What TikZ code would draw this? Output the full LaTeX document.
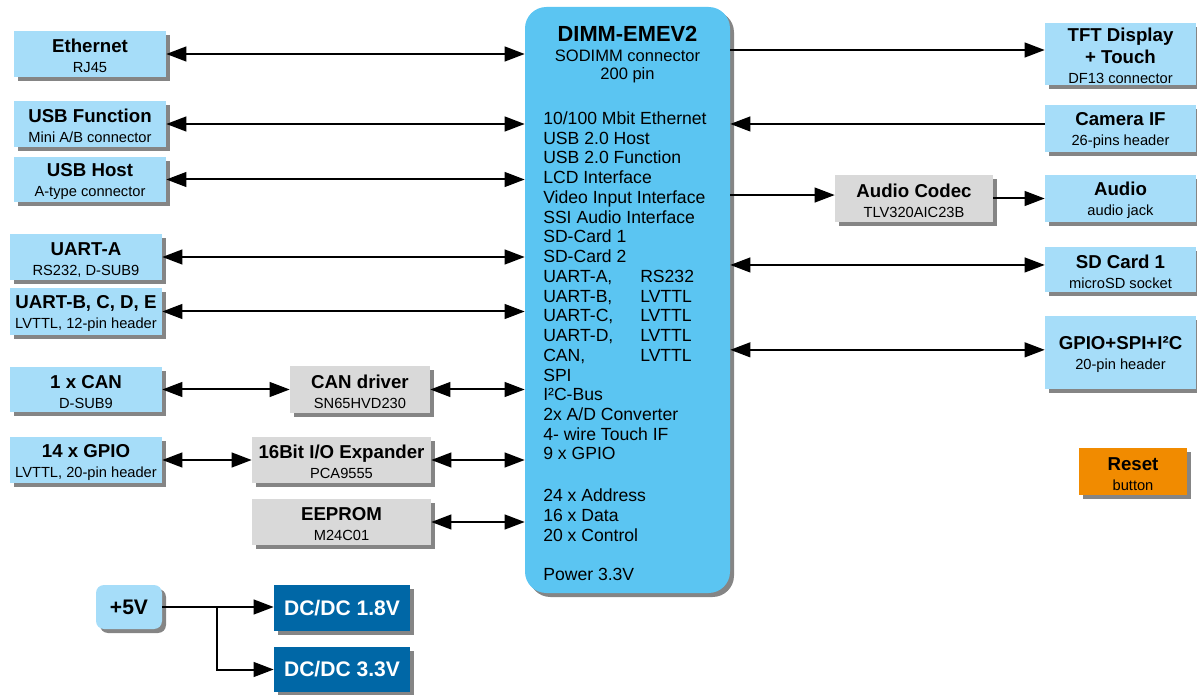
\documentclass[tikz,border=0pt]{standalone}
\usepackage{fontspec}
\setmainfont{Liberation Sans}
\usetikzlibrary{arrows.meta,shadows}
\definecolor{lblue}{HTML}{A6DDF9}
\definecolor{dimmblue}{HTML}{5BC5F2}
\definecolor{lgray}{HTML}{D9D9D9}
\definecolor{dblue}{HTML}{0067A6}
\definecolor{orng}{HTML}{F18B00}
\definecolor{shgray}{HTML}{858585}
\newcommand\ttl[1]{{\fontsize{14}{15}\selectfont\bfseries #1}}
\newcommand\tst{\rule{0pt}{13.5pt}}
\newcommand\bxat[7]{\node[#2, minimum width={(#5-#3)*0.75pt}, minimum height={(#6-#4)*0.75pt}] (#1) at ({(#3+#5)/2},{(#4+#6)/2}) {#7};}
\tikzset{
  box/.style={rectangle, inner sep=0pt, align=center,
    font=\fontsize{11}{15}\selectfont,
    drop shadow={shadow xshift=3pt, shadow yshift=-3pt, fill=shgray, opacity=1}},
  lbox/.style={box, fill=lblue},
  gbox/.style={box, fill=lgray},
  dbox/.style={box, fill=dblue, text=white, font=\fontsize{15.8}{18}\selectfont\bfseries},
  obox/.style={box, fill=orng},
  pbox/.style={box, fill=lblue, rounded corners=6pt, font=\fontsize{15.8}{18}\selectfont\bfseries},
  tip/.tip={Triangle[length=15pt,width=11pt]},
  conn/.style={line width=1.5pt, -tip},
  bconn/.style={line width=1.5pt, tip-tip},
}
\begin{document}
\begin{tikzpicture}[x=0.75pt,y=-0.75pt]
\useasboundingbox (0,0) rectangle (1197,695);
% main module
\node[rectangle, fill=dimmblue, rounded corners=16pt, minimum width={205*0.75pt}, minimum height={586*0.75pt},
  drop shadow={shadow xshift=3pt, shadow yshift=-3pt, fill=shgray, opacity=1}] (dimm) at (627.5,300) {};
\node[anchor=north, inner sep=0pt, align=center, font=\fontsize{12.4}{14.3}\selectfont] (dimmtitle) at (627.5,26)
  {{\fontsize{16.4}{18}\selectfont\bfseries DIMM-EMEV2}\\[0.6pt]SODIMM connector\\[-0.6pt]200 pin};
\node[anchor=north west, inner sep=0pt, align=left, font=\fontsize{13.2}{14.8}\selectfont] (dimmlist) at (543,111.5)
  {10/100 Mbit Ethernet\\USB 2.0 Host\\USB 2.0 Function\\LCD Interface\\Video Input Interface\\SSI Audio Interface\\
   SD-Card 1\\SD-Card 2\\\makebox[72.75pt][l]{UART-A,}RS232\\\makebox[72.75pt][l]{UART-B,}LVTTL\\
   \makebox[72.75pt][l]{UART-C,}LVTTL\\\makebox[72.75pt][l]{UART-D,}LVTTL\\\makebox[72.75pt][l]{CAN,}LVTTL\\
   SPI\\I²C-Bus\\2x A/D Converter\\4- wire Touch IF\\9 x GPIO\\[16.5pt]
   24 x Address\\16 x Data\\20 x Control\\[14.5pt]Power 3.3V};
% left boxes
\bxat{eth}{lbox}{14}{31}{166}{77}{\tst\ttl{Ethernet}\\RJ45}
\bxat{usbf}{lbox}{14}{101}{166}{147}{\tst\ttl{USB Function}\\Mini A/B connector}
\bxat{usbh}{lbox}{14}{157}{166}{202}{\tst\ttl{USB Host}\\A-type connector}
\bxat{uarta}{lbox}{10}{234}{162}{280}{\tst\ttl{UART-A}\\RS232, D-SUB9}
\bxat{uartb}{lbox}{10}{288}{162}{335}{\tst\ttl{UART-B, C, D, E}\\LVTTL, 12-pin header}
\bxat{can}{lbox}{10}{367}{162}{412}{\tst\ttl{1 x CAN}\\D-SUB9}
\bxat{gpio}{lbox}{10}{437}{162}{483}{\tst\ttl{14 x GPIO}\\LVTTL, 20-pin header}
\bxat{candrv}{gbox}{290}{366}{430}{413}{\tst\ttl{CAN driver}\\SN65HVD230}
\bxat{exp}{gbox}{252}{437}{431}{483}{\tst\ttl{16Bit I/O Expander}\\PCA9555}
\bxat{eeprom}{gbox}{252}{499}{431}{545}{\tst\ttl{EEPROM}\\M24C01}
\bxat{p5v}{pbox}{96}{585}{162}{629}{+5V}
\bxat{dc18}{dbox}{274}{585}{410}{631}{DC/DC 1.8V}
\bxat{dc33}{dbox}{274}{647}{410}{692}{DC/DC 3.3V}
% right boxes
\bxat{tft}{lbox}{1045}{23}{1196}{85}{\tst\ttl{TFT Display}\\[1.5pt]\ttl{+ Touch}\\DF13 connector}
\bxat{cam}{lbox}{1045}{105}{1196}{152}{\tst\ttl{Camera IF}\\26-pins header}
\bxat{codec}{gbox}{835}{175}{993}{222}{\tst\ttl{Audio Codec}\\TLV320AIC23B}
\bxat{audio}{lbox}{1045}{175}{1196}{222}{\tst\ttl{Audio}\\audio jack}
\bxat{sd}{lbox}{1045}{247}{1196}{292}{\tst\ttl{SD Card 1}\\microSD socket}
\bxat{gpior}{lbox}{1045}{316}{1196}{389}{\tst\ttl{GPIO+SPI+I²C}\\20-pin header}
\bxat{reset}{obox}{1079}{448}{1187}{495}{\tst\ttl{Reset}\\button}
% left connectors
\draw[bconn] (eth.east) -- (eth.east -| dimm.west);
\draw[bconn] (usbf.east) -- (usbf.east -| dimm.west);
\draw[bconn] (usbh.east) -- (usbh.east -| dimm.west);
\draw[bconn] (uarta.east) -- (uarta.east -| dimm.west);
\draw[bconn] (uartb.east) -- (uartb.east -| dimm.west);
\draw[bconn] (can.east) -- (can.east -| candrv.west);
\draw[bconn] (candrv.east) -- (candrv.east -| dimm.west);
\draw[bconn] (gpio.east) -- (gpio.east -| exp.west);
\draw[bconn] (exp.east) -- (exp.east -| dimm.west);
\draw[bconn] (eeprom.east) -- (eeprom.east -| dimm.west);
% power
\coordinate (br) at (217,608);
\draw[conn] (p5v.east) -- (p5v.east -| dc18.west);
\draw[conn] (br) |- (dc33.west);
% right connectors
\draw[conn] ([yshift=3pt]tft.west -| dimm.east) -- ([yshift=3pt]tft.west);
\draw[conn] ([yshift=3.4pt]cam.west) -- ([yshift=3.4pt]cam.west -| dimm.east);
\draw[conn] ([yshift=2.6pt]codec.west -| dimm.east) -- ([yshift=2.6pt]codec.west);
\draw[conn] (codec.east) -- (codec.east -| audio.west);
\draw[bconn] ([yshift=3.4pt]sd.west -| dimm.east) -- ([yshift=3.4pt]sd.west);
\draw[bconn] ([yshift=2pt]gpior.west -| dimm.east) -- ([yshift=2pt]gpior.west);
\end{tikzpicture}
\end{document}
